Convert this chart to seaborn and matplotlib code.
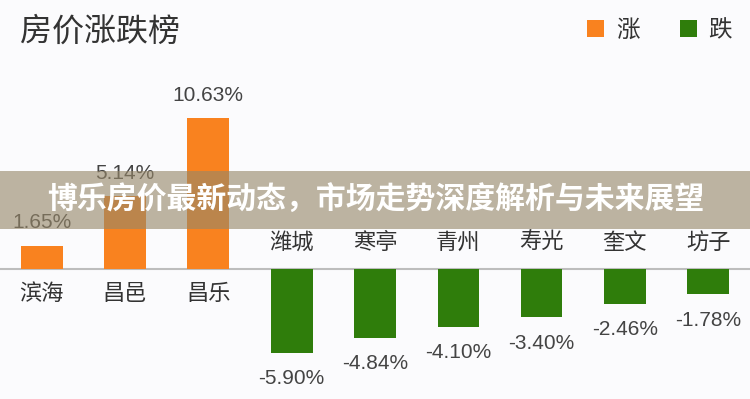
import pandas as pd
import matplotlib
matplotlib.use("Agg")
import matplotlib.pyplot as plt
from matplotlib.patches import Rectangle
import seaborn as sns

# data
cities = ['滨海', '昌邑', '昌乐', '潍城', '寒亭', '青州', '寿光', '奎文', '坊子']
changes = [1.65, 5.14, 10.63, -5.90, -4.84, -4.10, -3.40, -2.46, -1.78]
up_label = '涨'
down_label = '跌'
title = '房价涨跌榜'
banner = '博乐房价最新动态，市场走势深度解析与未来展望'

orange = '#F9821F'
green = '#2F7D0B'

df = pd.DataFrame({'city': cities, 'change': changes})
df['direction'] = [up_label if v > 0 else down_label for v in df['change']]

sns.set_theme(style='white')
plt.rcParams['font.family'] = ['Liberation Sans', 'Noto Sans CJK SC', 'DejaVu Sans']

fig = plt.figure(figsize=(7.5, 3.99), dpi=100, facecolor='#FBFBFD')
ax = fig.add_axes([0, 0, 1, 1])
ax.set_facecolor('#FBFBFD')

sns.barplot(data=df, x='city', y='change', hue='direction',
            palette={up_label: orange, down_label: green},
            dodge=False, width=0.5, saturation=1, linewidth=0, ax=ax)

ax.set_xlim(-0.5, len(cities) - 0.5)
ax.set_ylim(-9.15, 18.94)
ax.axis('off')
ax.axhline(0, color='#BDBDBD', lw=1.5, zorder=0.5)

# value labels and city names
for i, (c, v) in enumerate(zip(cities, changes)):
    if v > 0:
        ax.annotate(f'{v:.2f}%', (i, v), xytext=(0, 16.5), textcoords='offset points',
                    ha='center', va='center', fontsize=15, color='#444444')
        ax.annotate(c, (i, 0), xytext=(0, -18.5), textcoords='offset points',
                    ha='center', va='center', fontsize=16, color='#333333')
    else:
        ax.annotate(f'{v:.2f}%', (i, v), xytext=(0, -18.5), textcoords='offset points',
                    ha='center', va='center', fontsize=15, color='#444444')
        ax.annotate(c, (i, 0), xytext=(0, 18.5), textcoords='offset points',
                    ha='center', va='center', fontsize=16, color='#333333')

# title and legend
fig.text(20 / 750, 1 - 32 / 399, title, ha='left', va='center', fontsize=23,
         color='#333333', family=['Noto Sans CJK SC'])

handles, labels = ax.get_legend_handles_labels()
ax.legend(handles, labels, loc='upper right', bbox_to_anchor=(732 / 750, 1 - 19 / 399),
          ncol=2, frameon=False, handlelength=0.72, handleheight=0.72,
          handletextpad=0.5, columnspacing=1.7, borderpad=0, borderaxespad=0,
          prop={'family': ['Noto Sans CJK SC'], 'size': 17})
for t in ax.get_legend().get_texts():
    t.set_color('#333333')

# overlay banner
fig.patches.append(Rectangle((0, 1 - 229 / 399), 1, 58 / 399, transform=fig.transFigure,
                             facecolor=(150 / 255, 135 / 255, 105 / 255), alpha=0.62,
                             edgecolor='none', zorder=5))
fig.text(376 / 750, 1 - 200 / 399, banner, ha='center', va='center', fontsize=21.5,
         color='white', fontweight='bold', family=['Noto Sans CJK SC'], zorder=6)

fig.savefig('out.png', dpi=100, facecolor=fig.get_facecolor())
